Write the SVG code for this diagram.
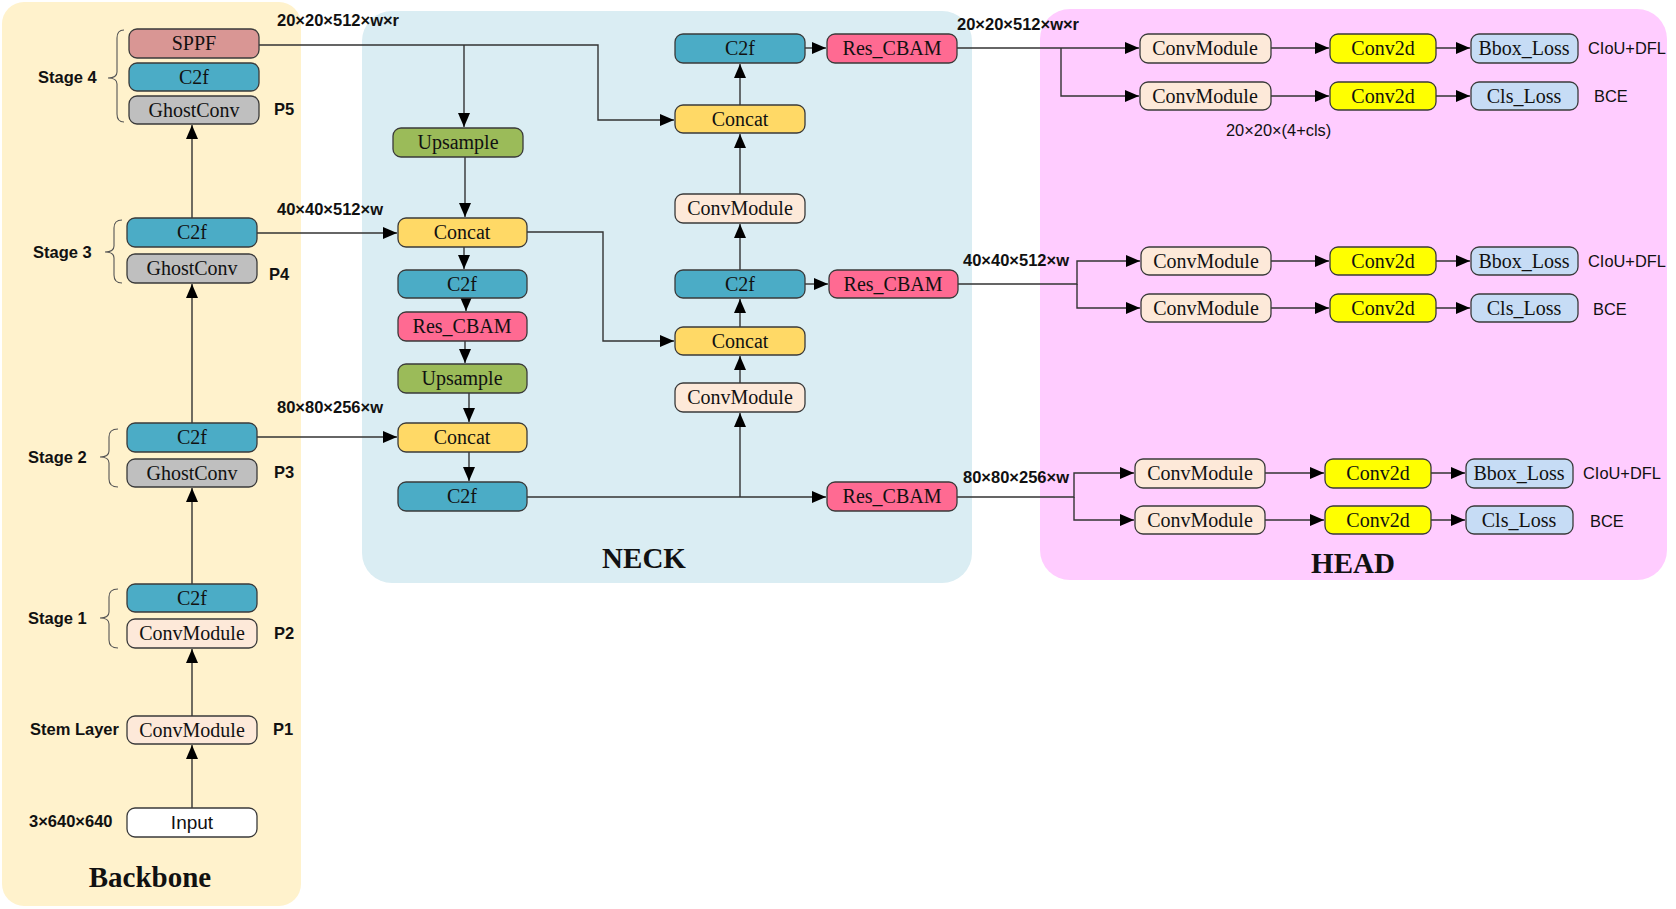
<svg xmlns="http://www.w3.org/2000/svg" width="1676" height="909" viewBox="0 0 1676 909">
<style>
.n{stroke:#3a3a3a;stroke-width:1.3}
.t{font-family:"Liberation Serif","Times New Roman",serif;font-size:20px;fill:#111;text-anchor:middle}
.s{font-family:"Liberation Sans",Arial,sans-serif;font-size:19px;fill:#111;text-anchor:middle}
.b{font-family:"Liberation Sans",Arial,sans-serif;font-size:16.5px;font-weight:bold;fill:#111}
.r{font-family:"Liberation Sans",Arial,sans-serif;font-size:16.4px;fill:#111}
.ti{font-family:"Liberation Serif","Times New Roman",serif;font-size:29px;font-weight:bold;fill:#111;text-anchor:middle}
.c2f{fill:#4BACC6}.gc{fill:#BFBFBF}.cm{fill:#FDE9D9}.sp{fill:#D99694}.in{fill:#FFFFFF}
.up{fill:#9BBB59}.cc{fill:#FFD966}.rc{fill:#FF6A92}.cv{fill:#FFFF00}.ls{fill:#C6DCF5}
.e{fill:none;stroke:#333;stroke-width:1.4}
.br{fill:none;stroke:#555;stroke-width:1.1}
</style>
<defs>
<marker id="a" markerUnits="userSpaceOnUse" markerWidth="15" markerHeight="12" refX="14" refY="6" orient="auto">
<path d="M0,0 L14,6 L0,12 z" fill="#000"/>
</marker>
</defs>
<rect width="1676" height="909" fill="#fff"/>
<g id="panels">
<rect x="2" y="2" width="299" height="904" rx="22" fill="#FFF2CC"/>
<rect x="362" y="11" width="610" height="572" rx="30" fill="#DAEDF3"/>
<rect x="1040" y="9" width="627" height="571" rx="30" fill="#FFCCFF"/>
<text class="ti" x="150" y="887">Backbone</text>
<text class="ti" x="644" y="568">NECK</text>
<text class="ti" x="1353" y="573">HEAD</text>
</g>
<g id="labels">
<text class="b" x="38" y="83">Stage 4</text>
<text class="b" x="33" y="258">Stage 3</text>
<text class="b" x="28" y="463">Stage 2</text>
<text class="b" x="28" y="624">Stage 1</text>
<text class="b" x="30" y="735">Stem Layer</text>
<text class="b" x="29" y="827">3×640×640</text>
<text class="b" x="274" y="115">P5</text>
<text class="b" x="269" y="280">P4</text>
<text class="b" x="274" y="478">P3</text>
<text class="b" x="274" y="639">P2</text>
<text class="b" x="273" y="735">P1</text>
<text class="b" x="277" y="26">20×20×512×w×r</text>
<text class="b" x="277" y="215">40×40×512×w</text>
<text class="b" x="277" y="413">80×80×256×w</text>
<text class="b" x="957" y="30">20×20×512×w×r</text>
<text class="b" x="963" y="266">40×40×512×w</text>
<text class="b" x="963" y="483">80×80×256×w</text>
<text class="r" x="1588" y="54">CIoU+DFL</text>
<text class="r" x="1594" y="102">BCE</text>
<text class="r" x="1226" y="136">20×20×(4+cls)</text>
<text class="r" x="1588" y="267">CIoU+DFL</text>
<text class="r" x="1593" y="315">BCE</text>
<text class="r" x="1583" y="479">CIoU+DFL</text>
<text class="r" x="1590" y="527">BCE</text>
</g>
<g id="braces">
<path class="br" d="M124,30 Q117,30 117,38 L117,72 Q117,78 108,78 Q117,78 117,84 L117,114 Q117,122 124,122"/>
<path class="br" d="M122,220 Q114,220 114,228 L114,246 Q114,252 105,252 Q114,252 114,258 L114,275 Q114,283 122,283"/>
<path class="br" d="M118,429 Q109,429 109,437 L109,451 Q109,457 100,457 Q109,457 109,463 L109,479 Q109,487 118,487"/>
<path class="br" d="M118,589 Q109,589 109,597 L109,612 Q109,618 100,618 Q109,618 109,624 L109,640 Q109,648 118,648"/>
</g>
<g id="connectors">
<line class="e" x1="192" y1="808" x2="192" y2="745" marker-end="url(#a)"/>
<line class="e" x1="192" y1="716" x2="192" y2="649" marker-end="url(#a)"/>
<line class="e" x1="192" y1="584" x2="192" y2="488" marker-end="url(#a)"/>
<line class="e" x1="192" y1="423" x2="192" y2="284" marker-end="url(#a)"/>
<line class="e" x1="192" y1="218" x2="192" y2="125" marker-end="url(#a)"/>
<polyline class="e" points="259,45 598,45 598,120 674,120" marker-end="url(#a)"/>
<line class="e" x1="464" y1="45" x2="464" y2="127" marker-end="url(#a)"/>
<line class="e" x1="257" y1="233" x2="397" y2="233" marker-end="url(#a)"/>
<line class="e" x1="257" y1="437" x2="397" y2="437" marker-end="url(#a)"/>
<line class="e" x1="465" y1="157" x2="465" y2="217" marker-end="url(#a)"/>
<line class="e" x1="464" y1="247" x2="464" y2="269" marker-end="url(#a)"/>
<line class="e" x1="466" y1="298" x2="466" y2="311" marker-end="url(#a)"/>
<line class="e" x1="465" y1="341" x2="465" y2="363" marker-end="url(#a)"/>
<line class="e" x1="469" y1="393" x2="469" y2="422" marker-end="url(#a)"/>
<line class="e" x1="469" y1="452" x2="469" y2="481" marker-end="url(#a)"/>
<polyline class="e" points="527,232 603,232 603,341 674,341" marker-end="url(#a)"/>
<line class="e" x1="527" y1="497" x2="826" y2="497" marker-end="url(#a)"/>
<line class="e" x1="740" y1="497" x2="740" y2="413" marker-end="url(#a)"/>
<line class="e" x1="740" y1="383" x2="740" y2="356" marker-end="url(#a)"/>
<line class="e" x1="740" y1="327" x2="740" y2="299" marker-end="url(#a)"/>
<line class="e" x1="805" y1="284" x2="828" y2="284" marker-end="url(#a)"/>
<line class="e" x1="740" y1="270" x2="740" y2="224" marker-end="url(#a)"/>
<line class="e" x1="740" y1="194" x2="740" y2="134" marker-end="url(#a)"/>
<line class="e" x1="740" y1="105" x2="740" y2="64" marker-end="url(#a)"/>
<line class="e" x1="805" y1="48" x2="826" y2="48" marker-end="url(#a)"/>
<line class="e" x1="957" y1="48" x2="1139" y2="48" marker-end="url(#a)"/>
<polyline class="e" points="1061,48 1061,96 1139,96" marker-end="url(#a)"/>
<polyline class="e" points="958,284 1077,284 1077,261 1140,261" marker-end="url(#a)"/>
<polyline class="e" points="1077,284 1077,308 1140,308" marker-end="url(#a)"/>
<polyline class="e" points="957,497 1074,497 1074,473 1134,473" marker-end="url(#a)"/>
<polyline class="e" points="1074,497 1074,520 1134,520" marker-end="url(#a)"/>
<line class="e" x1="1271" y1="48" x2="1329" y2="48" marker-end="url(#a)"/>
<line class="e" x1="1271" y1="96" x2="1329" y2="96" marker-end="url(#a)"/>
<line class="e" x1="1436" y1="48" x2="1470" y2="48" marker-end="url(#a)"/>
<line class="e" x1="1436" y1="96" x2="1470" y2="96" marker-end="url(#a)"/>
<line class="e" x1="1271" y1="261" x2="1329" y2="261" marker-end="url(#a)"/>
<line class="e" x1="1271" y1="308" x2="1329" y2="308" marker-end="url(#a)"/>
<line class="e" x1="1436" y1="261" x2="1470" y2="261" marker-end="url(#a)"/>
<line class="e" x1="1436" y1="308" x2="1470" y2="308" marker-end="url(#a)"/>
<line class="e" x1="1265" y1="473" x2="1324" y2="473" marker-end="url(#a)"/>
<line class="e" x1="1265" y1="520" x2="1324" y2="520" marker-end="url(#a)"/>
<line class="e" x1="1431" y1="473" x2="1465" y2="473" marker-end="url(#a)"/>
<line class="e" x1="1431" y1="520" x2="1465" y2="520" marker-end="url(#a)"/>
</g>
<g id="b_sppf"><rect class="n sp" x="129" y="29" width="130" height="29" rx="8"/><text class="t" x="194" y="50">SPPF</text></g>
<g id="b_c2f4"><rect class="n c2f" x="129" y="63" width="130" height="28" rx="8"/><text class="t" x="194" y="84">C2f</text></g>
<g id="b_gc4"><rect class="n gc" x="129" y="96" width="130" height="28" rx="8"/><text class="t" x="194" y="117">GhostConv</text></g>
<g id="b_c2f3"><rect class="n c2f" x="127" y="218" width="130" height="29" rx="8"/><text class="t" x="192" y="239">C2f</text></g>
<g id="b_gc3"><rect class="n gc" x="127" y="254" width="130" height="29" rx="8"/><text class="t" x="192" y="275">GhostConv</text></g>
<g id="b_c2f2"><rect class="n c2f" x="127" y="423" width="130" height="29" rx="8"/><text class="t" x="192" y="444">C2f</text></g>
<g id="b_gc2"><rect class="n gc" x="127" y="459" width="130" height="28" rx="8"/><text class="t" x="192" y="480">GhostConv</text></g>
<g id="b_c2f1"><rect class="n c2f" x="127" y="584" width="130" height="28" rx="8"/><text class="t" x="192" y="605">C2f</text></g>
<g id="b_cm1"><rect class="n cm" x="127" y="619" width="130" height="29" rx="8"/><text class="t" x="192" y="640">ConvModule</text></g>
<g id="b_stem"><rect class="n cm" x="127" y="716" width="130" height="28" rx="8"/><text class="t" x="192" y="737">ConvModule</text></g>
<g id="b_input"><rect class="n in" x="127" y="808" width="130" height="29" rx="8"/><text class="s" x="192" y="829">Input</text></g>
<g id="n_up1"><rect class="n up" x="393" y="128" width="130" height="29" rx="8"/><text class="t" x="458" y="149">Upsample</text></g>
<g id="n_cc1"><rect class="n cc" x="398" y="218" width="129" height="29" rx="8"/><text class="t" x="462" y="239">Concat</text></g>
<g id="n_c2f1"><rect class="n c2f" x="398" y="270" width="129" height="28" rx="8"/><text class="t" x="462" y="291">C2f</text></g>
<g id="n_rc1"><rect class="n rc" x="398" y="312" width="129" height="29" rx="8"/><text class="t" x="462" y="333">Res_CBAM</text></g>
<g id="n_up2"><rect class="n up" x="398" y="364" width="129" height="29" rx="8"/><text class="t" x="462" y="385">Upsample</text></g>
<g id="n_cc2"><rect class="n cc" x="398" y="423" width="129" height="29" rx="8"/><text class="t" x="462" y="444">Concat</text></g>
<g id="n_c2f2"><rect class="n c2f" x="398" y="482" width="129" height="29" rx="8"/><text class="t" x="462" y="503">C2f</text></g>
<g id="n_c2f3"><rect class="n c2f" x="675" y="34" width="130" height="29" rx="8"/><text class="t" x="740" y="55">C2f</text></g>
<g id="n_cc3"><rect class="n cc" x="675" y="105" width="130" height="28" rx="8"/><text class="t" x="740" y="126">Concat</text></g>
<g id="n_cm1"><rect class="n cm" x="675" y="194" width="130" height="29" rx="8"/><text class="t" x="740" y="215">ConvModule</text></g>
<g id="n_c2f4"><rect class="n c2f" x="675" y="270" width="130" height="28" rx="8"/><text class="t" x="740" y="291">C2f</text></g>
<g id="n_cc4"><rect class="n cc" x="675" y="327" width="130" height="28" rx="8"/><text class="t" x="740" y="348">Concat</text></g>
<g id="n_cm2"><rect class="n cm" x="675" y="383" width="130" height="29" rx="8"/><text class="t" x="740" y="404">ConvModule</text></g>
<g id="n_rc2"><rect class="n rc" x="827" y="34" width="130" height="29" rx="8"/><text class="t" x="892" y="55">Res_CBAM</text></g>
<g id="n_rc3"><rect class="n rc" x="829" y="270" width="129" height="28" rx="8"/><text class="t" x="893" y="291">Res_CBAM</text></g>
<g id="n_rc4"><rect class="n rc" x="827" y="482" width="130" height="29" rx="8"/><text class="t" x="892" y="503">Res_CBAM</text></g>
<g id="h_cm1"><rect class="n cm" x="1140" y="34" width="131" height="29" rx="8"/><text class="t" x="1205" y="55">ConvModule</text></g>
<g id="h_cm2"><rect class="n cm" x="1140" y="82" width="131" height="28" rx="8"/><text class="t" x="1205" y="103">ConvModule</text></g>
<g id="h_cv1"><rect class="n cv" x="1330" y="34" width="106" height="29" rx="8"/><text class="t" x="1383" y="55">Conv2d</text></g>
<g id="h_cv2"><rect class="n cv" x="1330" y="82" width="106" height="28" rx="8"/><text class="t" x="1383" y="103">Conv2d</text></g>
<g id="h_bb1"><rect class="n ls" x="1471" y="34" width="107" height="29" rx="8"/><text class="t" x="1524" y="55">Bbox_Loss</text></g>
<g id="h_cl1"><rect class="n ls" x="1471" y="82" width="107" height="28" rx="8"/><text class="t" x="1524" y="103">Cls_Loss</text></g>
<g id="h_cm3"><rect class="n cm" x="1141" y="247" width="130" height="28" rx="8"/><text class="t" x="1206" y="268">ConvModule</text></g>
<g id="h_cm4"><rect class="n cm" x="1141" y="294" width="130" height="28" rx="8"/><text class="t" x="1206" y="315">ConvModule</text></g>
<g id="h_cv3"><rect class="n cv" x="1330" y="247" width="106" height="28" rx="8"/><text class="t" x="1383" y="268">Conv2d</text></g>
<g id="h_cv4"><rect class="n cv" x="1330" y="294" width="106" height="28" rx="8"/><text class="t" x="1383" y="315">Conv2d</text></g>
<g id="h_bb2"><rect class="n ls" x="1471" y="247" width="107" height="28" rx="8"/><text class="t" x="1524" y="268">Bbox_Loss</text></g>
<g id="h_cl2"><rect class="n ls" x="1471" y="294" width="107" height="28" rx="8"/><text class="t" x="1524" y="315">Cls_Loss</text></g>
<g id="h_cm5"><rect class="n cm" x="1135" y="459" width="130" height="29" rx="8"/><text class="t" x="1200" y="480">ConvModule</text></g>
<g id="h_cm6"><rect class="n cm" x="1135" y="506" width="130" height="28" rx="8"/><text class="t" x="1200" y="527">ConvModule</text></g>
<g id="h_cv5"><rect class="n cv" x="1325" y="459" width="106" height="29" rx="8"/><text class="t" x="1378" y="480">Conv2d</text></g>
<g id="h_cv6"><rect class="n cv" x="1325" y="506" width="106" height="28" rx="8"/><text class="t" x="1378" y="527">Conv2d</text></g>
<g id="h_bb3"><rect class="n ls" x="1466" y="459" width="107" height="29" rx="8"/><text class="t" x="1519" y="480">Bbox_Loss</text></g>
<g id="h_cl3"><rect class="n ls" x="1466" y="506" width="107" height="28" rx="8"/><text class="t" x="1519" y="527">Cls_Loss</text></g>
</svg>
